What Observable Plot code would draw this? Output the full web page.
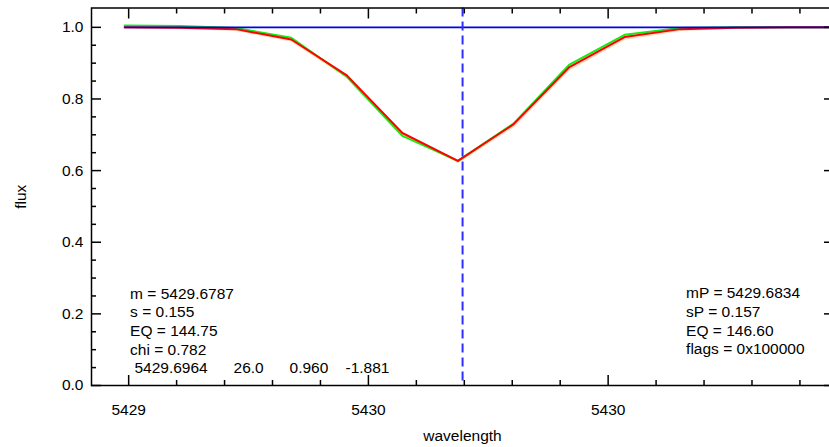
<!DOCTYPE html>
<html><head><meta charset="utf-8">
<script src="https://cdn.jsdelivr.net/npm/d3@7"></script>
<script src="https://cdn.jsdelivr.net/npm/@observablehq/plot@0.6"></script>
<style>
body{margin:0;background:#fff;}
#chart svg text{white-space:pre;}
</style></head><body><div id="chart"></div>
<script>
// spectrum sample wavelengths
const wavelength = [5428.9917, 5429.1075, 5429.2233, 5429.3392, 5429.4550, 5429.5708, 5429.6867,
  5429.8025, 5429.9183, 5430.0342, 5430.1500, 5430.2658, 5430.3817, 5430.4975];
// observed flux (green)
const fluxObserved = [1.005, 1.004, 0.998, 0.971, 0.862, 0.697, 0.627, 0.731, 0.895, 0.979, 0.998, 1.000, 1.000, 1.000];
// fitted profile (red)
const fluxFit = [1.000, 0.999, 0.995, 0.966, 0.866, 0.705, 0.627, 0.729, 0.888, 0.973, 0.995, 0.999, 1.000, 1.000];
// secondary profile (pale)
const fluxProfile = [1.000, 0.998, 0.994, 0.964, 0.863, 0.703, 0.625, 0.725, 0.883, 0.969, 0.993, 0.999, 1.000, 1.000];
const continuumLevel = 1.0;
const continuumStart = 5428.9917;
const lineCenter = 5429.6964;

const xDomain = [5428.9225, 5430.47];
const yDomain = [0, 1.054];
const xMajorTicks = [5429, 5429.5, 5430];
const xTickLabels = ["5429", "5430", "5430"];
const xMinorTicks = [5429.1, 5429.2, 5429.3, 5429.4, 5429.6, 5429.7, 5429.8, 5429.9, 5430.1, 5430.2, 5430.3, 5430.4];
const yMajorTicks = [0, 0.2, 0.4, 0.6, 0.8, 1.0];
const yTickLabels = ["0.0", "0.2", "0.4", "0.6", "0.8", "1.0"];
const yMinorTicks = [0.05, 0.1, 0.15, 0.25, 0.3, 0.35, 0.45, 0.5, 0.55, 0.65, 0.7, 0.75, 0.85, 0.9, 0.95];

const leftNotes = ["m = 5429.6787", "s = 0.155", "EQ = 144.75", "chi = 0.782", " 5429.6964      26.0      0.960    -1.881"];
const rightNotes = ["mP = 5429.6834", "sP = 0.157", "EQ = 146.60", "flags = 0x100000"];
const leftNotesX = 5429.003;
const rightNotesX = 5430.1626;

const table = wavelength.map((w, i) => ({w, obs: fluxObserved[i], fit: fluxFit[i], prof: fluxProfile[i]}));

const tickStyle = {stroke: "black", strokeWidth: 1.5, tickFormat: () => "", label: null};

const chart = Plot.plot({
  width: 829, height: 447,
  marginLeft: 91, marginRight: -4, marginTop: 7.5, marginBottom: 62,
  style: {fontFamily: "'Liberation Sans', Arial, sans-serif", fontSize: "15.5px", color: "black", background: "white"},
  x: {domain: xDomain},
  y: {domain: yDomain},
  marks: [
    Plot.line(table, {x: "w", y: "prof", stroke: "#f9dcb6", strokeWidth: 2.5}),
    Plot.line(table, {x: "w", y: "obs", stroke: "#11ee11", strokeWidth: 2}),
    Plot.line(table, {x: "w", y: "fit", stroke: "#ff0000", strokeWidth: 2}),
    Plot.ruleY([continuumLevel], {x1: continuumStart, x2: xDomain[1], stroke: "#0000ee", strokeWidth: 1.6}),
    Plot.ruleX([lineCenter], {stroke: "#2f2fff", strokeWidth: 2, strokeDasharray: "9,5"}),
    // inward ticks
    Plot.axisX(xMajorTicks, {anchor: "bottom", tickSize: 10, dy: -10, ...tickStyle}),
    Plot.axisX(xMinorTicks, {anchor: "bottom", tickSize: 5, dy: -5, ...tickStyle}),
    Plot.axisX(xMajorTicks, {anchor: "top", tickSize: 10, dy: 10, ...tickStyle}),
    Plot.axisX(xMinorTicks, {anchor: "top", tickSize: 5, dy: 5, ...tickStyle}),
    Plot.axisY(yMajorTicks, {anchor: "left", tickSize: 10, dx: 10, ...tickStyle}),
    Plot.axisY(yMinorTicks, {anchor: "left", tickSize: 5, dx: 5, ...tickStyle}),
    Plot.axisY(yMajorTicks, {anchor: "right", tickSize: 10, dx: -10, ...tickStyle}),
    Plot.axisY(yMinorTicks, {anchor: "right", tickSize: 5, dx: -5, ...tickStyle}),
    // tick labels and axis titles
    Plot.axisX(xMajorTicks, {anchor: "bottom", tickSize: 0, tickPadding: 18.5, tickFormat: (d, i) => xTickLabels[i],
      label: "wavelength", labelAnchor: "center", labelArrow: "none", labelOffset: 55, fill: "black"}),
    Plot.axisY(yMajorTicks, {anchor: "left", tickSize: 0, tickPadding: 8, tickFormat: (d, i) => yTickLabels[i],
      label: "flux", labelAnchor: "center", labelArrow: "none", labelOffset: 77, fill: "black"}),
    Plot.frame({stroke: "black", strokeWidth: 1.5}),
    // fit annotations
    Plot.text([{x: leftNotesX, t: leftNotes.join("\n")}], {x: "x", text: "t", frameAnchor: "bottom", textAnchor: "start",
      lineAnchor: "bottom", lineHeight: 1.203, dy: -12.2, fill: "black"}),
    Plot.text([{x: rightNotesX, t: rightNotes.join("\n")}], {x: "x", text: "t", frameAnchor: "bottom", textAnchor: "start",
      lineAnchor: "bottom", lineHeight: 1.203, dy: -31.2, fill: "black"})
  ]
});
document.getElementById("chart").appendChild(chart);
</script></body></html>
